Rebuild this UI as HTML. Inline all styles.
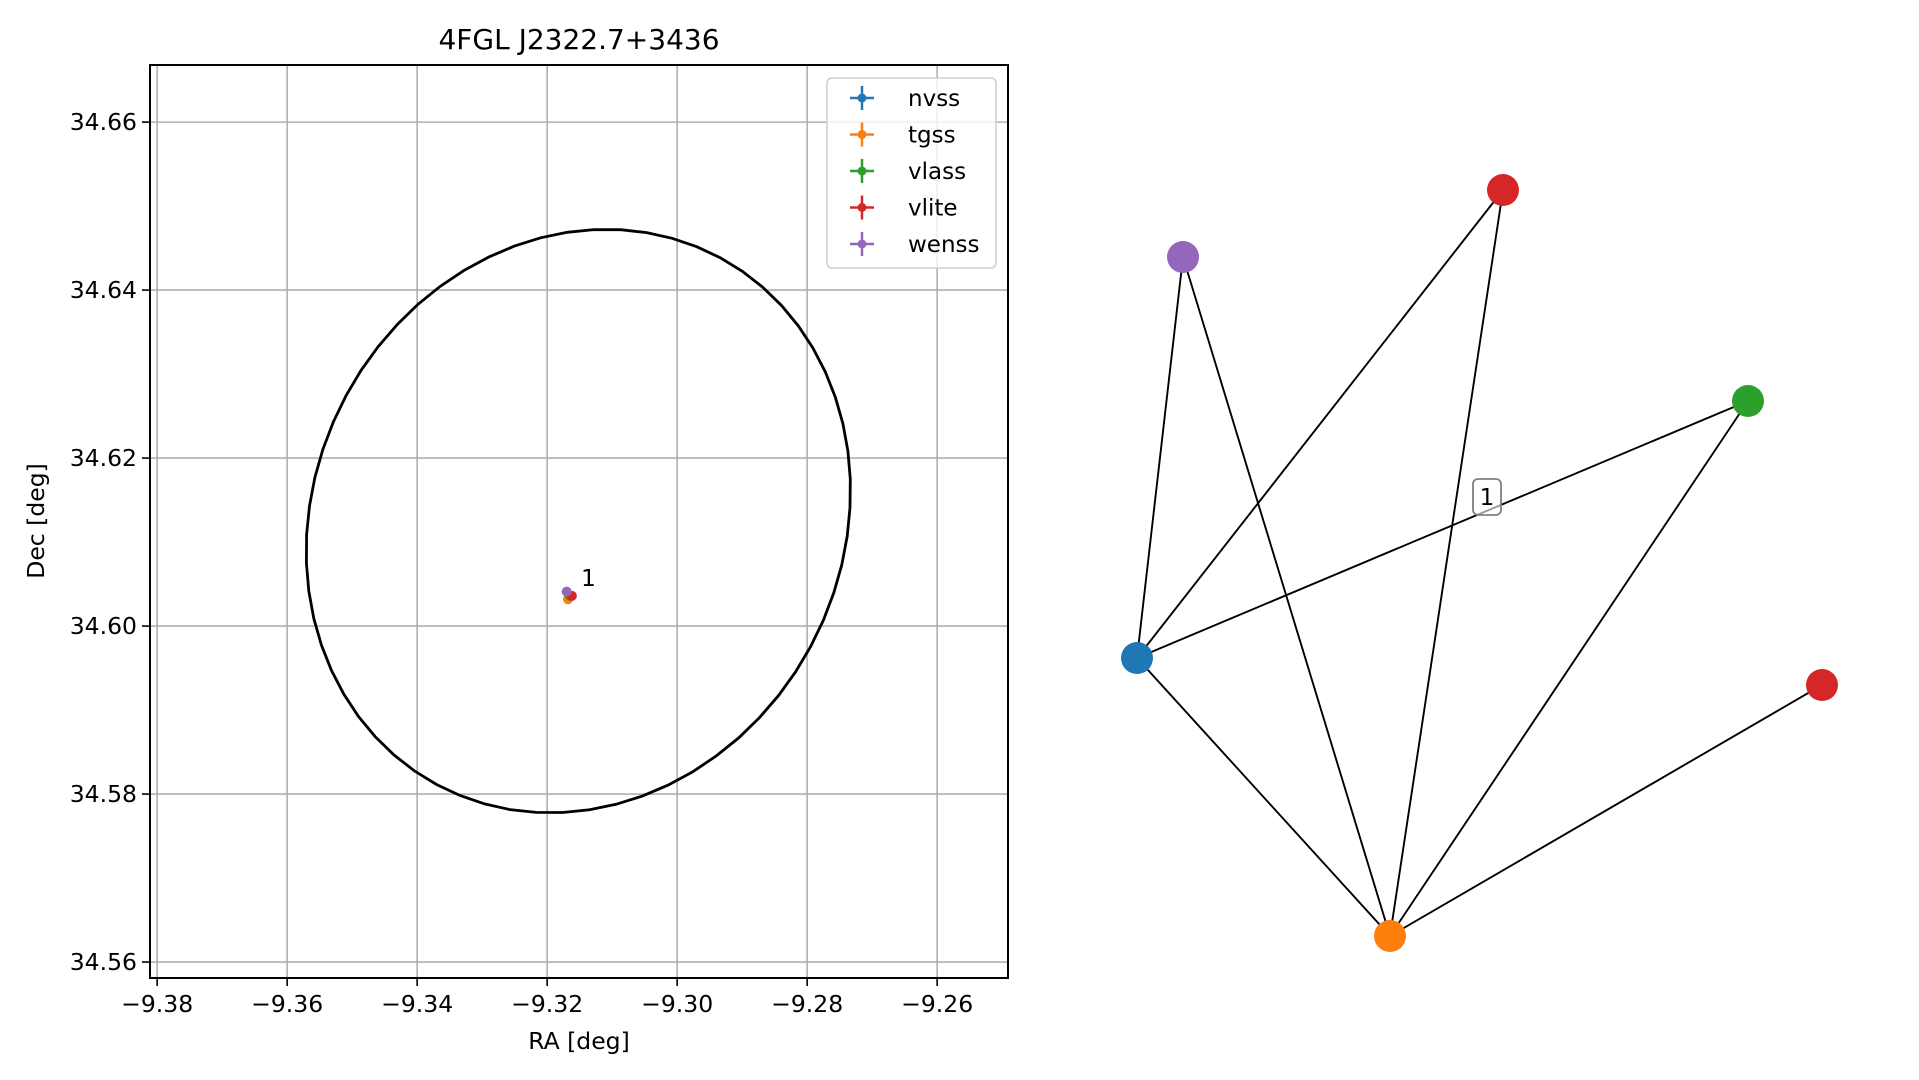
<!DOCTYPE html>
<html><head><meta charset="utf-8"><style>
html,body{margin:0;padding:0;background:#fff;}
svg{display:block;font-family:"DejaVu Sans","Liberation Sans",sans-serif;}
</style></head><body>
<svg id="fig" width="1919" height="1080" viewBox="0 0 1919 1080" xmlns="http://www.w3.org/2000/svg">
<rect width="1919" height="1080" fill="#fff"/>
<g id="left"></g>
<g id="right"></g>
</svg>
<script>
const xTicks = [-9.38,-9.36,-9.34,-9.32,-9.30,-9.28,-9.26];
const xTickLabels = ["\u22129.38","\u22129.36","\u22129.34","\u22129.32","\u22129.30","\u22129.28","\u22129.26"];
const yTicks = [34.56,34.58,34.60,34.62,34.64,34.66];
const yTickLabels = ["34.56","34.58","34.60","34.62","34.64","34.66"];
const xDomain = [-9.3811, -9.2491];
const yDomain = [34.5581, 34.6668];
const surveys = ["nvss","tgss","vlass","vlite","wenss"];
const surveyColors = ["#1f77b4","#ff7f0e","#2ca02c","#d62728","#9467bd"];
const pointRA = [-9.3165,-9.3168,-9.3165,-9.3162,-9.3170];
const pointDec = [34.6036,34.6032,34.6036,34.6036,34.6041];
const ellipseCenter = [-9.3152, 34.6125];
const ellipseRadii = [0.0418, 0.0347];
const ellipseShear = [0.0024, 0.0016];
const groupLabel = {text:"1", ra:-9.3148, dec:34.6057};
const nodeSurvey = ["nvss","wenss","vlite","vlass","vlite","tgss"];
const nodeX = [1137,1183,1503,1748,1822,1390];
const nodeY = [658,257,190,401,685,936];
const edges = [[0,1],[0,2],[0,3],[0,5],[1,5],[2,5],[3,5],[4,5]];

const NS="http://www.w3.org/2000/svg";
function mk(parent,tag,attrs,text){const e=document.createElementNS(NS,tag);for(const k in attrs)e.setAttribute(k,attrs[k]);if(text!==undefined)e.textContent=text;parent.appendChild(e);return e;}
const AX={l:150,r:1008,t:65,b:978};
const sx=v=>AX.l+(v-xDomain[0])/(xDomain[1]-xDomain[0])*(AX.r-AX.l);
const sy=v=>AX.b-(v-yDomain[0])/(yDomain[1]-yDomain[0])*(AX.b-AX.t);
const L=document.getElementById('left');
xTicks.forEach((t,i)=>{
  const g=mk(L,'line',{x1:sx(t),x2:sx(t),y1:AX.t,y2:AX.b,stroke:'#b0b0b0','stroke-width':1.6});
  
  
  const tk=mk(L,'line',{x1:sx(t),x2:sx(t),y1:AX.b,y2:AX.b+8,stroke:'#000','stroke-width':1.6});
  
  
  const lb=mk(L,'text',{x:sx(t),y:AX.b+34,'font-size':23.5,'text-anchor':'middle'},xTickLabels[i]);
  
  
});
yTicks.forEach((t,i)=>{
  const g=mk(L,'line',{x1:AX.l,x2:AX.r,y1:sy(t),y2:sy(t),stroke:'#b0b0b0','stroke-width':1.6});
  
  
  const tk=mk(L,'line',{x1:AX.l-8,x2:AX.l,y1:sy(t),y2:sy(t),stroke:'#000','stroke-width':1.6});
  
  
  const lb=mk(L,'text',{x:AX.l-13,y:sy(t)+8,'font-size':23.5,'text-anchor':'end'},yTickLabels[i]);
  
  
});
let pts=[];
for(let k=0;k<=64;k++){const a=k/64*2*Math.PI;
  const x=ellipseCenter[0]+ellipseRadii[0]*Math.cos(a)+ellipseShear[0]*Math.sin(a);
  const y=ellipseCenter[1]+ellipseRadii[1]*Math.sin(a)+ellipseShear[1]*Math.cos(a);
  pts.push(sx(x).toFixed(1)+','+sy(y).toFixed(1));}
const el=mk(L,'polyline',{points:pts.join(' '),fill:'none',stroke:'#000','stroke-width':2.8});


pointRA.forEach((ra,i)=>{
  const c=mk(L,'circle',{cx:sx(ra),cy:sy(pointDec[i]),r:5,fill:surveyColors[i]});
  
  
});
const gl=mk(L,'text',{x:sx(groupLabel.ra),y:sy(groupLabel.dec)+8,'font-size':23.5},groupLabel.text);


const fr=mk(L,'rect',{x:AX.l,y:AX.t,width:AX.r-AX.l,height:AX.b-AX.t,fill:'none',stroke:'#000','stroke-width':2});


const lg=mk(L,'g',{});


mk(lg,'rect',{x:827,y:78,width:169,height:190,rx:5,fill:'#fff','fill-opacity':0.8,stroke:'#d0d0d0','stroke-width':1.6});
surveys.forEach((s,i)=>{
  const y=98+i*36.5;
  const e=mk(lg,'g',{});
  
  
  mk(e,'line',{x1:850,x2:874,y1:y,y2:y,stroke:surveyColors[i],'stroke-width':2.5});
  mk(e,'line',{x1:862,x2:862,y1:y-12,y2:y+12,stroke:surveyColors[i],'stroke-width':2.5});
  mk(e,'circle',{cx:862,cy:y,r:4.5,fill:surveyColors[i]});
  mk(e,'text',{x:908,y:y+8,'font-size':23},s);
});
const ti=mk(L,'text',{x:579,y:49,'font-size':28,'text-anchor':'middle'},"4FGL J2322.7+3436");


const xl=mk(L,'text',{x:579,y:1049,'font-size':23.5,'text-anchor':'middle'},"RA [deg]");


const yl=mk(L,'text',{x:44,y:521,'font-size':23.5,'text-anchor':'middle',transform:'rotate(-90 44 521)'},"Dec [deg]");



const R=document.getElementById('right');
edges.forEach(([a,b])=>{
  const ln=mk(R,'line',{x1:nodeX[a],y1:nodeY[a],x2:nodeX[b],y2:nodeY[b],stroke:'#000','stroke-width':1.9});
  
  
});
const eb=mk(R,'g',{});


mk(eb,'rect',{x:1473,y:479,width:28,height:36,rx:5,fill:'#fff','fill-opacity':0.6,stroke:'#808080','stroke-width':1.8});
mk(eb,'text',{x:1487,y:505,'font-size':23,'text-anchor':'middle'},"1");
nodeSurvey.forEach((s,i)=>{
  const c=mk(R,'circle',{cx:nodeX[i],cy:nodeY[i],r:16,fill:surveyColors[surveys.indexOf(s)]});
  
  
});
</script>
</body></html>
